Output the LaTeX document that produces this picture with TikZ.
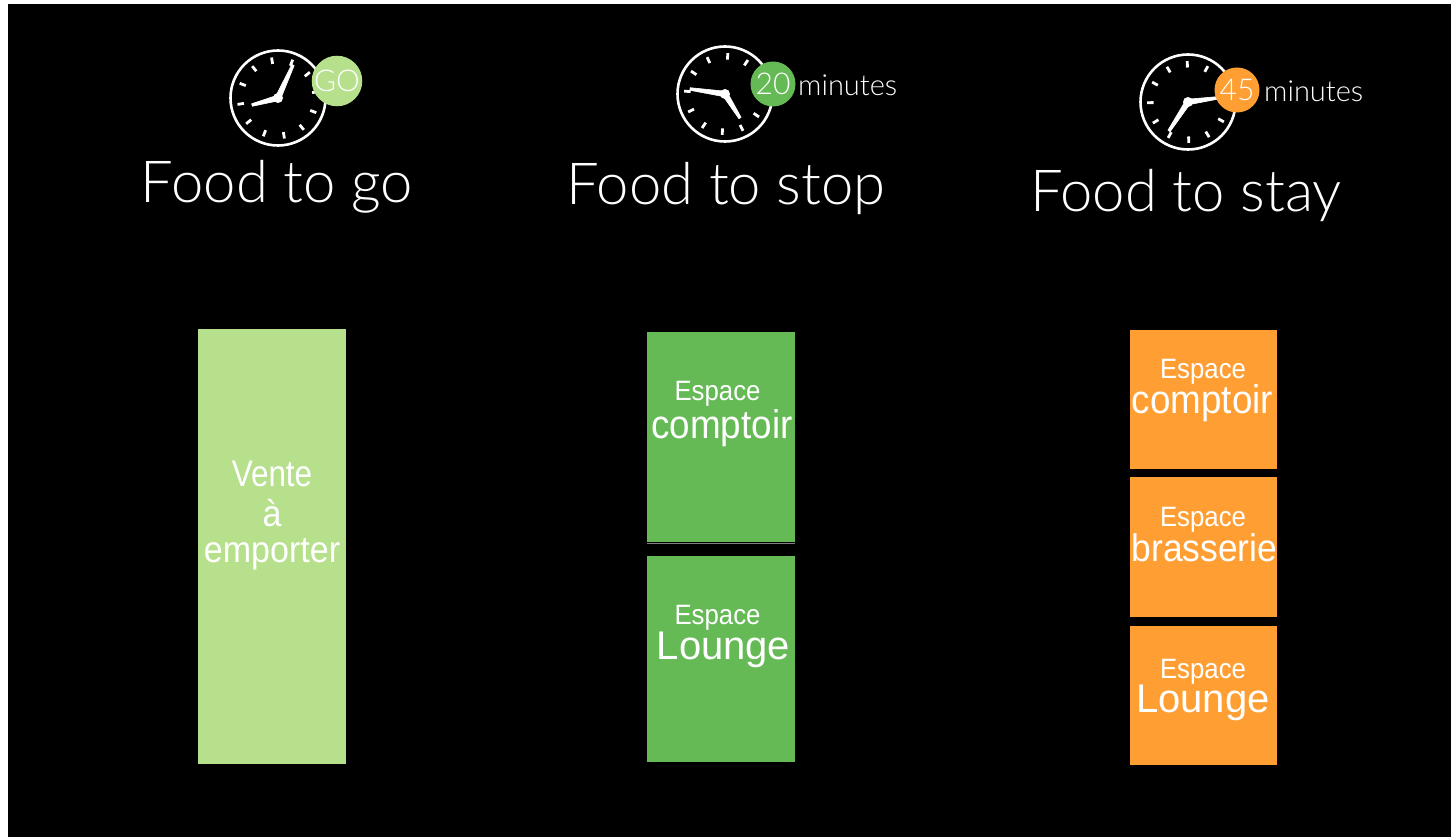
\documentclass[tikz,border=0pt]{standalone}
\usepackage{fontspec}
\setmainfont{Lato Light}
\newfontfamily\helv[FakeStretch=0.92]{Liberation Sans}
\newfontfamily\helvn[FakeStretch=0.85]{Liberation Sans}
\newfontfamily\helvw{Liberation Sans}
\definecolor{lgreen}{HTML}{B7E08D}
\definecolor{mgreen}{HTML}{65BA55}
\definecolor{orng}{HTML}{FF9F33}
\usetikzlibrary{calc}
\newcommand{\clockface}[2]{%
  \draw[clockline] (#1) circle[radius=47.5];
  \foreach \a in {0,30,...,330}
    \draw[ticks] ($(#1)+({-(\a+#2)}:34.5)$) -- ($(#1)+({-(\a+#2)}:41)$);
}
\tikzset{
  clockline/.style={draw=white,line width=2.6pt},
  ticks/.style={draw=white,line width=2.8pt},
  hand/.style={fill=white,draw=white,line width=0.6pt,line join=round},
  hub/.style={fill=white,draw=none,circle,minimum size=10pt,inner sep=0pt},
  title/.style={text=white,font=\fontsize{58}{58}\selectfont,anchor=base},
  badge/.style={circle,minimum size=45pt,inner sep=0pt,text=white,font=\fontsize{30}{30}\selectfont},
  minutes/.style={text=white,font=\fontsize{29}{29}\selectfont,anchor=base west,inner sep=0pt},
  small/.style={text=white,font=\helv\fontsize{28}{28}\selectfont,anchor=base},
  big/.style={text=white,font=\helv\fontsize{40}{40}\selectfont,anchor=base},
  bigw/.style={text=white,font=\helvw\fontsize{40}{40}\selectfont,anchor=base},
}
\newcommand{\clockhand}[2]{%
  \path let \p1=($(#2)-(#1)$), \n1={atan2(-\y1,\x1)} in
    coordinate (hl) at ($(#1)+(\n1+90:2.8)$)
    coordinate (hr) at ($(#1)+(\n1-90:2.8)$)
    coordinate (tl) at ($(#2)+(\n1+90:1.3)$)
    coordinate (tr) at ($(#2)+(\n1-90:1.3)$);
  \draw[hand] (hl) -- (tl) -- (tr) -- (hr) -- cycle;
}
\begin{document}
\begin{tikzpicture}[x=1pt,y=-1pt]
\useasboundingbox (0,0) rectangle (1451,837);
\fill[white] (0,0) rectangle (1451,837);
\fill[black] (8,4) rectangle (1451,837);

% clock 1
\coordinate (c1) at (278,98);
\clockface{c1}{9}
\coordinate (c1a) at (293,65);
\coordinate (c1b) at (252,105);
\clockhand{c1}{c1a}
\clockhand{c1}{c1b}
\node[hub] (h1) at (c1) {};
\node[badge,fill=lgreen] (b1) at (337,81) {GO};
\node[title] (t1) at (277,203) {Food to go};

% clock 2
\coordinate (c2) at (725,94);
\clockface{c2}{-4}
\coordinate (c2a) at (690,89);
\coordinate (c2b) at (740,118);
\clockhand{c2}{c2a}
\clockhand{c2}{c2b}
\node[hub] (h2) at (c2) {};
\node[badge,fill=mgreen] (b2) at (773,84) {20};
\node[minutes] (m2) at (798,96) {minutes};
\node[title] (t2) at (726,205) {Food to stop};

% clock 3
\coordinate (c3) at (1188,102);
\clockface{c3}{1}
\coordinate (c3a) at (1217,98);
\coordinate (c3b) at (1169,131);
\clockhand{c3}{c3a}
\clockhand{c3}{c3b}
\node[hub] (h3) at (c3) {};
\node[badge,fill=orng] (b3) at (1237,90) {45};
\node[minutes] (m3) at (1264,102) {minutes};
\node[title] (t3) at (1186,212) {Food to stay};

% blocks
\fill[lgreen] (198,329) rectangle (346,764);
\node[text=white,font=\fontsize{37}{38}\selectfont,align=center] (v) at (272,516)
  {\helvn Vente\\[2pt]\helv à\\[-2pt]\helv emporter};

\fill[mgreen] (647,332) rectangle (795,541.5);
\draw[gray,line width=0.8pt] (647,543.2) -- (795,543.2);
\fill[mgreen] (647,556) rectangle (795,762);
\node[small] (e1) at (717.5,400) {Espace};
\node[big] (e2) at (722,438) {comptoir};
\node[small] (e3) at (717.5,624) {Espace};
\node[bigw] (e4) at (723.5,659) {Lounge};

\fill[orng] (1130,330) rectangle (1277,469);
\fill[orng] (1130,477) rectangle (1277,617);
\fill[orng] (1130,626) rectangle (1277,765);
\node[small] (f1) at (1203,378) {Espace};
\node[big] (f2) at (1202.5,413) {comptoir};
\node[small] (f3) at (1203,526) {Espace};
\node[big,font=\helv\fontsize{38.5}{38.5}\selectfont] (f4) at (1204.5,561) {brasserie};
\node[small] (f5) at (1203,678) {Espace};
\node[bigw] (f6) at (1203,712) {Lounge};
\end{tikzpicture}
\end{document}
